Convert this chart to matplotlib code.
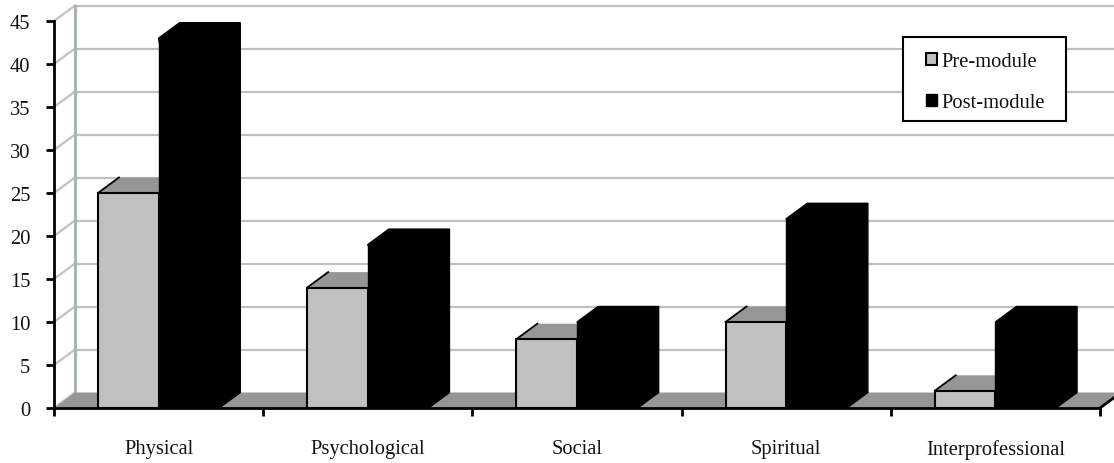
import matplotlib
matplotlib.use("Agg")
import matplotlib.pyplot as plt
from matplotlib.patches import Patch, Polygon, Rectangle

plt.rcParams['font.family'] = ['Liberation Serif']

categories = ["Physical", "Psychological", "Social", "Spiritual", "Interprofessional"]
pre_module = [25, 14, 8, 10, 2]
post_module = [43, 19, 10, 22, 10]
y_ticks = [0, 5, 10, 15, 20, 25, 30, 35, 40, 45]

W, H = 1114, 464
fig = plt.figure(figsize=(W / 100, H / 100), dpi=100)
ax = fig.add_axes([54 / W, 1 - 409 / H, (1100 - 54) / W, (409 - 22) / H])
ax.set_xlim(0, 5)
ax.set_ylim(0, 45)

# сдвиг "глубины" псевдо-3D
dx = 21 / 209.2
dy = 15.5 / 8.6
bar_w = 0.29
x_end = 5 + dx

grid_col = "#c0c0c0"
wall_col = "#c0c0cc"
floor_col = "#969696"
text_col = "#111111"
fs = 14.8

# пол
ax.add_patch(Polygon([(0, 0), (dx, dy), (x_end, dy), (5, 0)], closed=True,
                     fc=floor_col, ec="none", zorder=2, clip_on=False))

# сетка на задней стенке и боковая стенка
for t in y_ticks:
    if t > 0:
        ax.plot([dx, x_end], [t + dy, t + dy], color=grid_col, lw=1.6, zorder=1, clip_on=False)
    ax.plot([0, dx], [t, t + dy], color=wall_col, lw=1.6, zorder=1, clip_on=False)
ax.plot([dx, dx], [dy, 45 + dy], color="#aab4b0", lw=2.2, zorder=1, clip_on=False)

# столбцы
for i in range(len(categories)):
    x_pre = i + 0.5 - bar_w
    x_post = i + 0.5
    h1 = pre_module[i]
    h2 = post_module[i]
    ax.add_patch(Polygon([(x_pre, h1), (x_pre + dx, h1 + dy), (x_pre + bar_w + dx, h1 + dy), (x_pre + bar_w, h1)],
                         closed=True, fc=floor_col, ec="none", zorder=3, clip_on=False))
    ax.plot([x_pre, x_pre + dx], [h1, h1 + dy], color="black", lw=1.3, zorder=3, clip_on=False)
    ax.add_patch(Polygon([(x_post, h2), (x_post + dx, h2 + dy), (x_post + bar_w + dx, h2 + dy),
                          (x_post + bar_w + dx, dy), (x_post + bar_w, 0)],
                         closed=True, fc="black", ec="black", lw=1, zorder=5, clip_on=False))

ax.bar([i + 0.5 - bar_w for i in range(5)], pre_module, width=bar_w, align="edge",
       color="#c0c0c0", edgecolor="black", lw=1.5, zorder=4)
ax.bar([i + 0.5 for i in range(5)], post_module, width=bar_w, align="edge",
       color="black", edgecolor="black", lw=1, zorder=5)

# правый край пола
ax.plot([5, x_end], [0, dy], color="black", lw=2, zorder=6, clip_on=False)

# оси
ax.patch.set_visible(False)
for s in ["top", "right"]:
    ax.spines[s].set_visible(False)
for s in ["left", "bottom"]:
    ax.spines[s].set_linewidth(2)
    ax.spines[s].set_zorder(7)
ax.set_yticks(y_ticks)
ax.set_xticks(range(6))
ax.set_xticklabels([])
ax.set_xticks([i + 0.5 for i in range(5)], minor=True)
ax.set_xticklabels(categories, minor=True)
ax.tick_params(axis="x", which="major", length=6, width=2, direction="out")
ax.tick_params(axis="x", which="minor", length=0, pad=22.5, labelsize=fs, labelcolor=text_col)
ax.tick_params(axis="y", length=6, width=2, direction="out", pad=11, labelsize=fs, labelcolor=text_col)

# легенда
fig_to_ax = fig.transFigure + ax.transAxes.inverted()
(bx0, by0), (bx1, by1) = fig_to_ax.transform([(903 / W, 1 - 122 / H), (1066 / W, 1 - 38 / H)])
ax.add_patch(Rectangle((bx0, by0), bx1 - bx0, by1 - by0, transform=ax.transAxes,
                       fc="white", ec="black", lw=1.5, zorder=8))
handles = [Patch(fc="#c0c0c0", ec="black", lw=1.5, label="Pre-module"),
           Patch(fc="black", ec="black", lw=1, label="Post-module")]
leg = ax.legend(handles=handles, loc="upper left", frameon=False, fontsize=fs,
                bbox_to_anchor=(922 / W, 1 - 49 / H), bbox_transform=fig.transFigure,
                handlelength=0.55, handleheight=0.55, handletextpad=0.2,
                labelspacing=1.08, borderpad=0.2, borderaxespad=0, labelcolor=text_col)
leg.set_zorder(9)

fig.savefig("out.png", dpi=100)
